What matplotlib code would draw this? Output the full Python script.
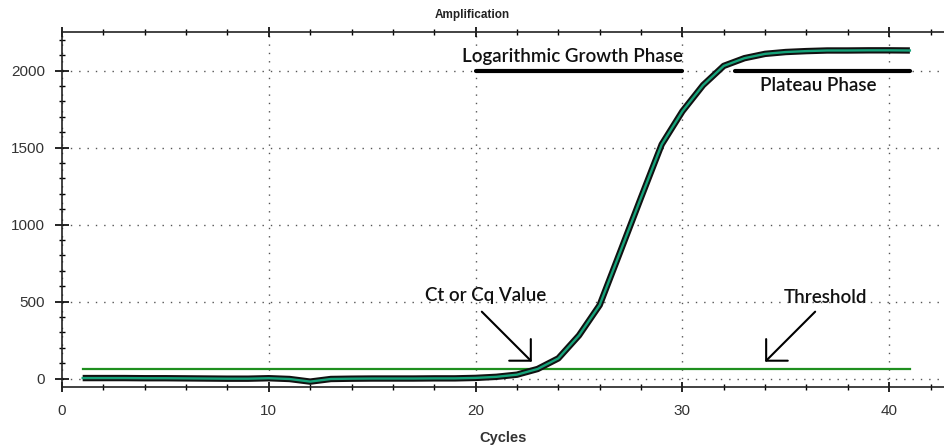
#!/usr/bin/env python3
"""qPCR amplification curve"""
import matplotlib
matplotlib.use("Agg")
import matplotlib.pyplot as plt
from matplotlib.ticker import MultipleLocator

cycles = list(range(1, 42))
fluorescence = [3, 3, 3, 2, 2, 1, 0, -1, -1, 2,
                -3, -20, -3, -1, 0, 0, 0, 1, 1, 4,
                11, 25, 62, 131, 280, 477, 825, 1175, 1520, 1735,
                1905, 2030, 2080, 2108, 2120, 2126, 2130, 2130, 2131, 2131,
                2130]
threshold = 60

log_phase = (20, 30)
plateau_phase = (32.55, 41)
phase_level = 2000

fig = plt.figure(figsize=(9.44, 4.48), dpi=100)
ax = fig.add_axes([62 / 944, 61 / 448, 1 - 62 / 944, 355 / 448])

ax.plot([cycles[0], cycles[-1]], [threshold, threshold],
        color='#1f8f1f', lw=1.6, zorder=3)
ax.plot(cycles, fluorescence, color='#111111', lw=4.6, zorder=4,
        solid_joinstyle='round', solid_capstyle='butt')
ax.plot(cycles, fluorescence, color='#16a37a', lw=1.7, zorder=5,
        solid_joinstyle='round')

ax.plot(log_phase, [phase_level] * 2, color='black', lw=3,
        solid_capstyle='round', zorder=6)
ax.plot(plateau_phase, [phase_level] * 2, color='black', lw=3,
        solid_capstyle='round', zorder=6)

note_font = dict(family=['Lato', 'DejaVu Sans'], fontsize=13.5,
                 fontweight='semibold', color='#111111')
ax.text(19.34, 2055, 'Logarithmic Growth Phase', ha='left', va='baseline',
        **note_font)
ax.text(33.75, 1865, 'Plateau Phase', ha='left', va='baseline', **note_font)
ax.text(17.53, 503, 'Ct or Cq Value', ha='left', va='baseline', **note_font)
ax.text(34.9, 490, 'Threshold', ha='left', va='baseline', **note_font)

arrow = dict(arrowstyle='->,head_length=0.55,head_width=0.55',
             color='black', lw=1.5, mutation_scale=20, shrinkA=0, shrinkB=0)
ax.annotate('', xy=(22.72, 109), xytext=(20.3, 434), arrowprops=arrow)
ax.annotate('', xy=(34.0, 109), xytext=(36.42, 434), arrowprops=arrow)

ax.set_xlim(0, 42.65)
ax.set_ylim(-55, 2250)
ax.xaxis.set_major_locator(MultipleLocator(10))
ax.xaxis.set_minor_locator(MultipleLocator(2))
ax.yaxis.set_major_locator(MultipleLocator(500))
ax.yaxis.set_minor_locator(MultipleLocator(100))

ax.spines['right'].set_visible(False)
for s in ('left', 'bottom', 'top'):
    ax.spines[s].set_linewidth(1.2)
    ax.spines[s].set_color('#222222')

ax.tick_params(axis='y', which='major', direction='inout', length=10,
               width=1.2, labelsize=11, labelcolor='#333333', pad=7)
ax.tick_params(axis='y', which='minor', direction='inout', length=5,
               width=1.0)
ax.tick_params(axis='x', which='major', direction='inout', length=7,
               width=1.2, labelsize=11, labelcolor='#333333', top=True,
               pad=9)
ax.tick_params(axis='x', which='minor', direction='inout', length=5,
               width=1.0, top=True)
for lab in ax.get_xticklabels() + ax.get_yticklabels():
    lab.set_family(['Liberation Sans', 'DejaVu Sans'])

ax.grid(True, which='major', linestyle=(0, (1, 5)), color='#555555', lw=1)

ax.set_xlabel('Cycles', fontsize=10.5, fontweight='bold', color='#333333',
              family=['Liberation Sans', 'DejaVu Sans'], labelpad=9)
fig.text(0.5, 1 - 15 / 448, 'Amplification', ha='center', va='center',
         fontsize=8.5, fontweight='bold', color='#222222',
         family=['Liberation Sans', 'DejaVu Sans'])

plt.savefig('out.png', dpi=100)
